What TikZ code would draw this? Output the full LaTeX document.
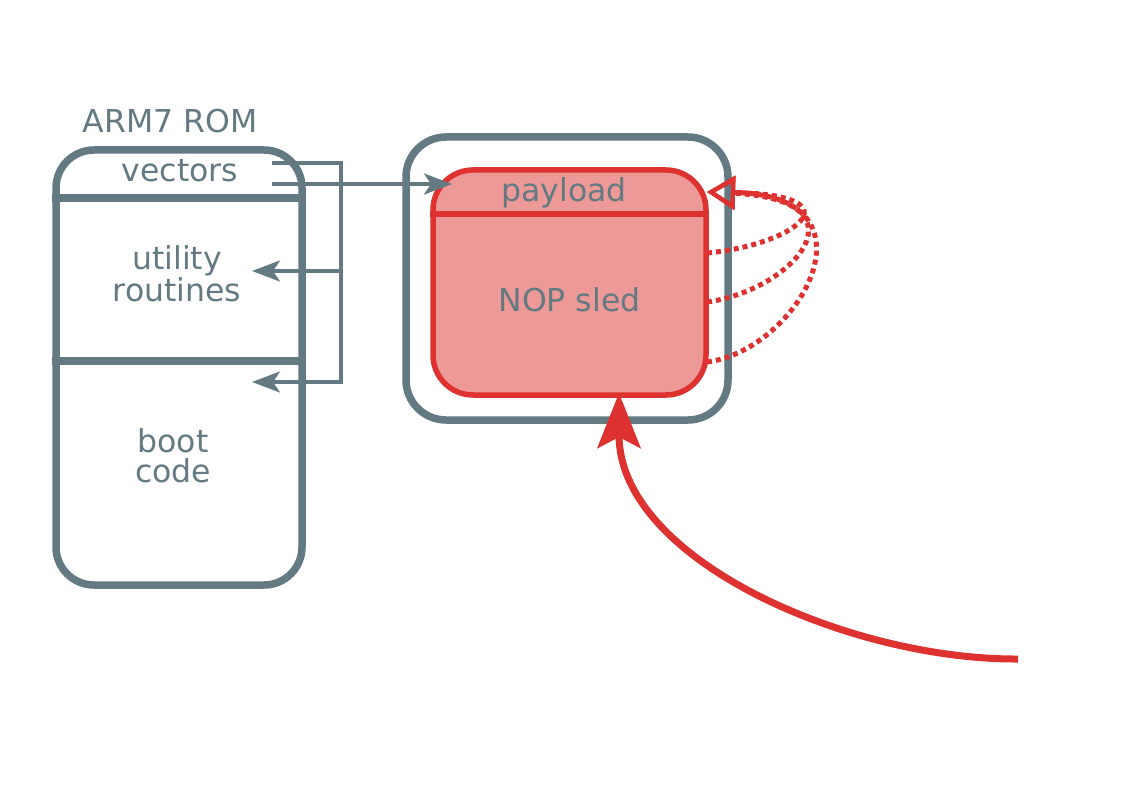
\documentclass[tikz,border=0pt]{standalone}
\usepackage{fontspec}
\setmainfont{DejaVu Sans}
\usetikzlibrary{arrows.meta}
\definecolor{slate}{RGB}{99,122,130}
\definecolor{redc}{RGB}{221,50,48}
\definecolor{redfill}{RGB}{237,153,151}
\begin{document}
\begin{tikzpicture}[x=1pt,y=-1pt,
  lbl/.style={text=slate, font=\fontsize{31.5}{29.5}\selectfont, inner sep=0pt, anchor=base, align=center},
  graybox/.style={draw=slate, line width=7.5pt, rounded corners=38pt, inner sep=0pt},
  redbox/.style={draw=redc, fill=redfill, line width=5.5pt, rounded corners=40pt, inner sep=0pt},
  gline/.style={draw=slate, line width=3.5pt},
  gtip/.style={-{Stealth[length=28pt, width=21pt, inset=7pt]}},
  rdot/.style={draw=redc, line width=5pt, dash pattern=on 5pt off 4pt, -{Triangle[open, length=28pt, width=33pt, line width=4pt]}},
  rbig/.style={draw=redc, line width=7pt, -{Stealth[length=55pt, width=43pt, inset=11pt]}}
]
\useasboundingbox (0,0) rectangle (1123,794);

% ROM box
\node[graybox, minimum width=246pt, minimum height=435pt] (rom) at (179,367.5) {};
\draw[slate, line width=7.5pt] (rom.west |- 0,198) -- (rom.east |- 0,198);
\draw[slate, line width=7.5pt] (rom.west |- 0,361) -- (rom.east |- 0,361);
\node[lbl] (romtitle) at (170,133) {ARM7 ROM};
\node[lbl] (vectors) at (180,182) {vectors};
\node[lbl] (utility) at (177,301) {utility\\routines};
\node[lbl] (boot) at (173,482) {boot\\code};

% memory box
\node[graybox, rounded corners=40pt, minimum width=322pt, minimum height=283pt] (mem) at (567,278.5) {};
\node[redbox, minimum width=273pt, minimum height=225pt] (pay) at (569.5,282.5) {};
\draw[redc, line width=5.5pt] (pay.west |- 0,214) -- (pay.east |- 0,214);
\node[lbl] (payload) at (564,202) {payload};
\node[lbl] (nop) at (569.5,311) {NOP sled};

% gray connectors
\coordinate (v1) at (272,163);
\coordinate (v2) at (272,184);
\coordinate (j) at (341,163);
\coordinate (ut) at (252,271);
\coordinate (bt) at (252,382);
\coordinate (pt) at (452,184);
\draw[gline, gtip] (v1) -- (j) |- (bt);
\draw[gline, gtip] (j |- ut) -- (ut);
\draw[gline, gtip] (v2) -- (pt);

% red dotted loops
\coordinate (rt) at (707,192);
\coordinate (n1) at (707,253);
\coordinate (n2) at (707,302);
\coordinate (n3) at (707,362);
\draw[rdot] (n1) .. controls (795,245) and (860,195) .. (rt);
\draw[rdot] (n2) .. controls (795,290) and (870,200) .. (rt);
\draw[rdot] (n3) .. controls (800,350) and (885,195) .. (rt);

% big red arrow
\coordinate (src) at (1018,659);
\coordinate (tgt) at (619,393);
\draw[rbig] (src) .. controls (850,660) and (619,560) .. (tgt);
\end{tikzpicture}
\end{document}
